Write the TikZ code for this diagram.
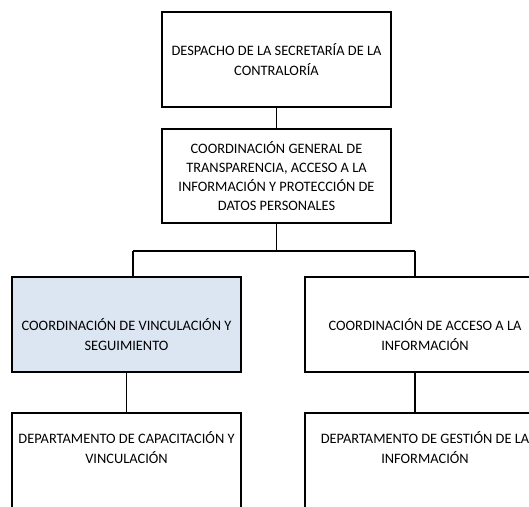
\documentclass[tikz,border=0pt]{standalone}
\usepackage{fontspec}
\setmainfont{Carlito}
\usetikzlibrary{positioning,calc}
\definecolor{paleblue}{RGB}{220,230,242}

\begin{document}
\begin{tikzpicture}[
  x=1pt, y=-1pt,
  every node/.style={font=\fontsize{14.4}{19.1}\selectfont},
  box/.style={rectangle, draw=black, line width=1.5pt, fill=white, minimum width=229pt, minimum height=95pt, align=center, inner sep=0pt},
  lbl/.style={align=center, inner sep=0pt},
  ln/.style={line width=1.5pt}
]
  \clip (0,0) rectangle (529,506);
  \fill[white] (0,0) rectangle (529,506);
  % top levels
  \node[box] (dsc) at (276.5,59.5) {DESPACHO DE LA SECRETARÍA DE LA\\CONTRALORÍA};
  \node[box, minimum height=94pt] (cgt) at (276.5,176) {COORDINACIÓN GENERAL DE\\TRANSPARENCIA, ACCESO A LA\\INFORMACIÓN Y PROTECCIÓN DE\\DATOS PERSONALES};
  % coordinations
  \node[box, fill=paleblue, label={[lbl, yshift=-10pt]center:COORDINACIÓN DE VINCULACIÓN Y\\SEGUIMIENTO}] (cvs) at (126.5,324.5) {};
  \node[box, minimum width=240pt, label={[lbl, yshift=-10pt]center:COORDINACIÓN DE ACCESO A LA\\INFORMACIÓN}] (cai) at (425,324.5) {};
  % departments
  \node[box, label={[lbl, yshift=13pt]center:DEPARTAMENTO DE CAPACITACIÓN Y\\VINCULACIÓN}] (dcv) at (126.5,460.5) {};
  \node[box, minimum width=240pt, label={[lbl, yshift=13pt]center:DEPARTAMENTO DE GESTIÓN DE LA\\INFORMACIÓN}] (dgi) at (425,460.5) {};
  \coordinate (jl) at (133,251);
  \coordinate (jr) at (415,251);
  \draw[ln] (dsc) -- (cgt);
  \draw[ln] (cgt.south) -- (cgt.south |- jl);
  \draw[ln] (jl) -- (jr);
  \draw[ln] (jl) -- (jl |- cvs.north);
  \draw[ln] (jr) -- (jr |- cai.north);
  \draw[ln] (cvs) -- (dcv);
  \draw[ln] (cai.south -| jr) -- (dgi.north -| jr);
\end{tikzpicture}
\end{document}
